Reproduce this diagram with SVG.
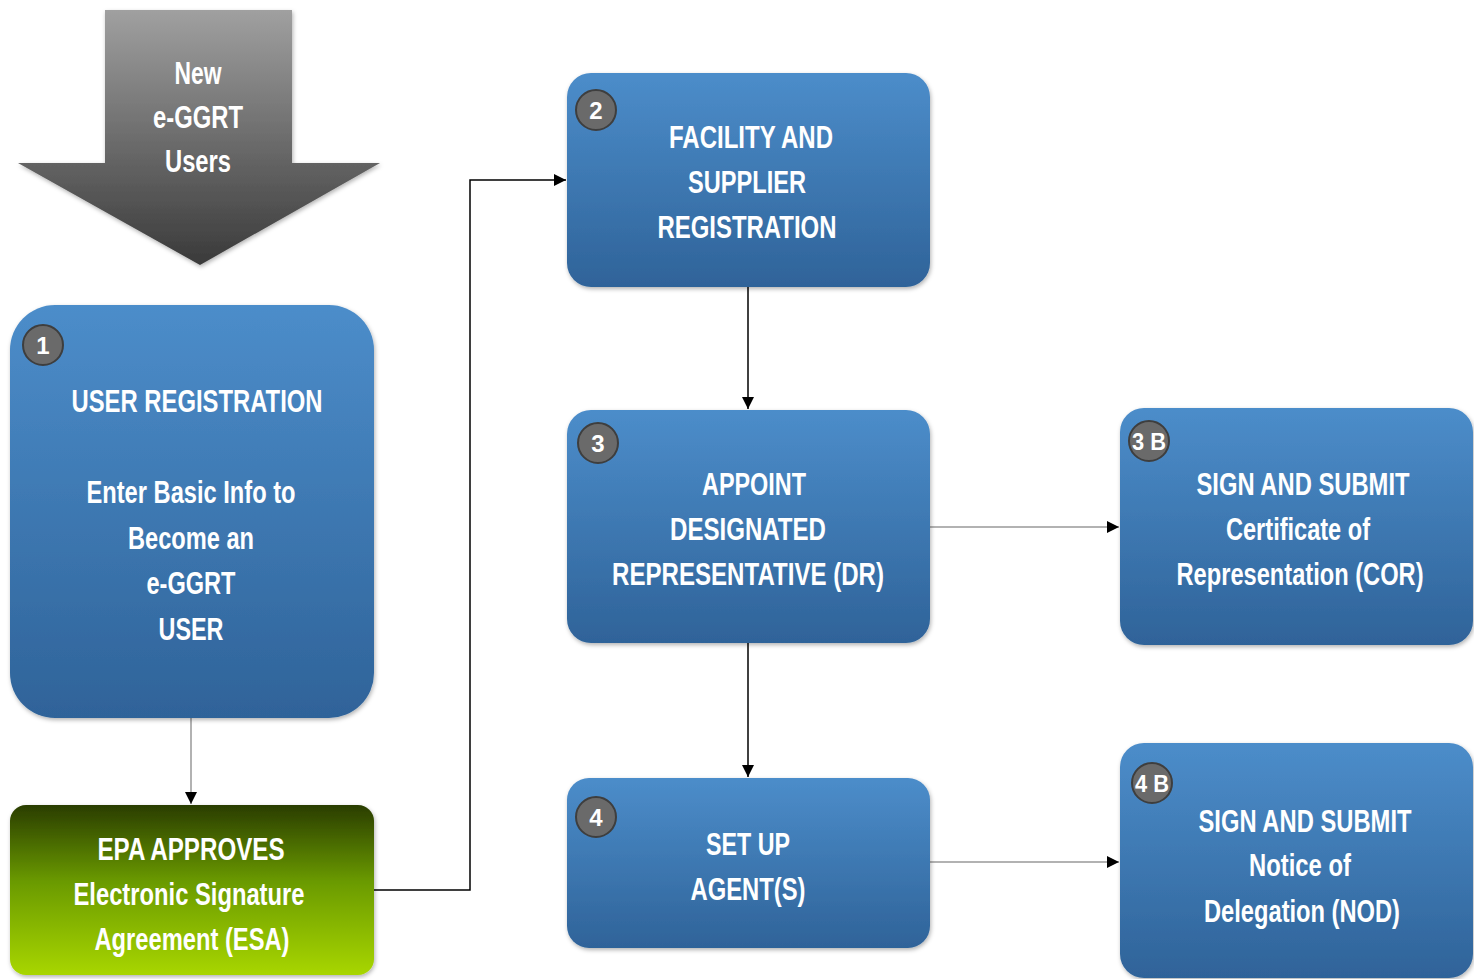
<svg xmlns="http://www.w3.org/2000/svg" width="1474" height="979" viewBox="0 0 1474 979">
<defs>
<linearGradient id="blue" x1="0" y1="0" x2="0" y2="1">
<stop offset="0" stop-color="#4c8dca"/>
<stop offset="1" stop-color="#2f6399"/>
</linearGradient>
<linearGradient id="green" x1="0" y1="0" x2="0" y2="1">
<stop offset="0" stop-color="#2a3d02"/>
<stop offset="0.45" stop-color="#6a9a04"/>
<stop offset="1" stop-color="#a8d600"/>
</linearGradient>
<linearGradient id="grey" x1="0" y1="0" x2="0" y2="1">
<stop offset="0" stop-color="#a0a0a0"/>
<stop offset="1" stop-color="#3a3a3a"/>
</linearGradient>
<filter id="sh" x="-10%" y="-10%" width="120%" height="120%">
<feDropShadow dx="1" dy="2" stdDeviation="2" flood-color="#000" flood-opacity="0.3"/>
</filter>
<marker id="ah" viewBox="0 0 10 10" refX="10" refY="5" markerWidth="12" markerHeight="12" markerUnits="userSpaceOnUse" orient="auto">
<path d="M0,0 L10,5 L0,10 Z" fill="#000"/>
</marker>
</defs>
<style>
.t{font-family:"Liberation Sans Narrow","Liberation Sans",Arial,sans-serif;font-weight:bold;fill:#fff;text-anchor:middle;font-size:32px}
.b{fill:#6a6a6a;stroke:#3e3e3e;stroke-width:2}
.bt{font-family:"Liberation Sans Narrow","Liberation Sans",Arial,sans-serif;font-weight:bold;fill:#fff;text-anchor:middle;font-size:24px}
.node{fill:url(#blue);filter:url(#sh)}
.c{fill:none;stroke:#000;stroke-width:1.5;marker-end:url(#ah)}
.cg{fill:none;stroke:#999;stroke-width:1.5;marker-end:url(#ah)}
</style>
<rect width="1474" height="979" fill="#fff"/>

<g id="start">
<path d="M105,10 L292,10 L292,163 L380,163 L200,265 L18,163 L105,163 Z" fill="url(#grey)" filter="url(#sh)"/>
<text class="t" x="198" y="84" textLength="47" lengthAdjust="spacingAndGlyphs">New</text>
<text class="t" x="198" y="128" textLength="90" lengthAdjust="spacingAndGlyphs">e-GGRT</text>
<text class="t" x="198" y="172" textLength="66" lengthAdjust="spacingAndGlyphs">Users</text>
</g>

<g id="connectors">
<path class="cg" d="M191,718 L191,804"/>
<path class="c" d="M374,890 L470,890 L470,180 L566,180"/>
<path class="c" d="M748,287 L748,409"/>
<path class="c" d="M748,643 L748,777"/>
<path class="cg" d="M930,527 L1119,527"/>
<path class="cg" d="M930,862 L1119,862"/>
</g>

<g id="n1">
<rect class="node" x="10" y="305" width="364" height="413" rx="45"/>
<circle class="b" cx="43" cy="345" r="20"/>
<text class="bt" x="43" y="354">1</text>
<text class="t" x="197" y="412" textLength="251" lengthAdjust="spacingAndGlyphs">USER REGISTRATION</text>
<text class="t" x="191" y="503" textLength="209" lengthAdjust="spacingAndGlyphs">Enter Basic Info to</text>
<text class="t" x="191" y="549" textLength="126" lengthAdjust="spacingAndGlyphs">Become an</text>
<text class="t" x="191" y="594" textLength="89" lengthAdjust="spacingAndGlyphs">e-GGRT</text>
<text class="t" x="191" y="640" textLength="65" lengthAdjust="spacingAndGlyphs">USER</text>
</g>

<g id="esa">
<rect x="10" y="805" width="364" height="170" rx="16" fill="url(#green)" filter="url(#sh)"/>
<text class="t" x="191" y="860" textLength="187" lengthAdjust="spacingAndGlyphs">EPA APPROVES</text>
<text class="t" x="189" y="905" textLength="231" lengthAdjust="spacingAndGlyphs">Electronic Signature</text>
<text class="t" x="192" y="950" textLength="195" lengthAdjust="spacingAndGlyphs">Agreement (ESA)</text>
</g>

<g id="n2">
<rect class="node" x="567" y="73" width="363" height="214" rx="24"/>
<circle class="b" cx="596" cy="110" r="20"/>
<text class="bt" x="596" y="119">2</text>
<text class="t" x="751" y="148" textLength="164" lengthAdjust="spacingAndGlyphs">FACILITY AND</text>
<text class="t" x="747" y="193" textLength="118" lengthAdjust="spacingAndGlyphs">SUPPLIER</text>
<text class="t" x="747" y="238" textLength="179" lengthAdjust="spacingAndGlyphs">REGISTRATION</text>
</g>

<g id="n3">
<rect class="node" x="567" y="410" width="363" height="233" rx="24"/>
<circle class="b" cx="598" cy="443" r="20"/>
<text class="bt" x="598" y="452">3</text>
<text class="t" x="754" y="495" textLength="104" lengthAdjust="spacingAndGlyphs">APPOINT</text>
<text class="t" x="748" y="540" textLength="156" lengthAdjust="spacingAndGlyphs">DESIGNATED</text>
<text class="t" x="748" y="585" textLength="272" lengthAdjust="spacingAndGlyphs">REPRESENTATIVE (DR)</text>
</g>

<g id="n4">
<rect class="node" x="567" y="778" width="363" height="170" rx="22"/>
<circle class="b" cx="596" cy="817" r="20"/>
<text class="bt" x="596" y="826">4</text>
<text class="t" x="748" y="855" textLength="84" lengthAdjust="spacingAndGlyphs">SET UP</text>
<text class="t" x="748" y="900" textLength="115" lengthAdjust="spacingAndGlyphs">AGENT(S)</text>
</g>

<g id="n3b">
<rect class="node" x="1120" y="408" width="353" height="237" rx="24"/>
<circle class="b" cx="1149" cy="441" r="20"/>
<text class="bt" x="1149" y="450" textLength="34" lengthAdjust="spacingAndGlyphs">3 B</text>
<text class="t" x="1303" y="495" textLength="213" lengthAdjust="spacingAndGlyphs">SIGN AND SUBMIT</text>
<text class="t" x="1298" y="540" textLength="144" lengthAdjust="spacingAndGlyphs">Certificate of</text>
<text class="t" x="1300" y="585" textLength="247" lengthAdjust="spacingAndGlyphs">Representation (COR)</text>
</g>

<g id="n4b">
<rect class="node" x="1120" y="743" width="353" height="235" rx="24"/>
<circle class="b" cx="1152" cy="783" r="20"/>
<text class="bt" x="1152" y="792" textLength="34" lengthAdjust="spacingAndGlyphs">4 B</text>
<text class="t" x="1305" y="832" textLength="213" lengthAdjust="spacingAndGlyphs">SIGN AND SUBMIT</text>
<text class="t" x="1300" y="876" textLength="102" lengthAdjust="spacingAndGlyphs">Notice of</text>
<text class="t" x="1302" y="922" textLength="196" lengthAdjust="spacingAndGlyphs">Delegation (NOD)</text>
</g>
</svg>
